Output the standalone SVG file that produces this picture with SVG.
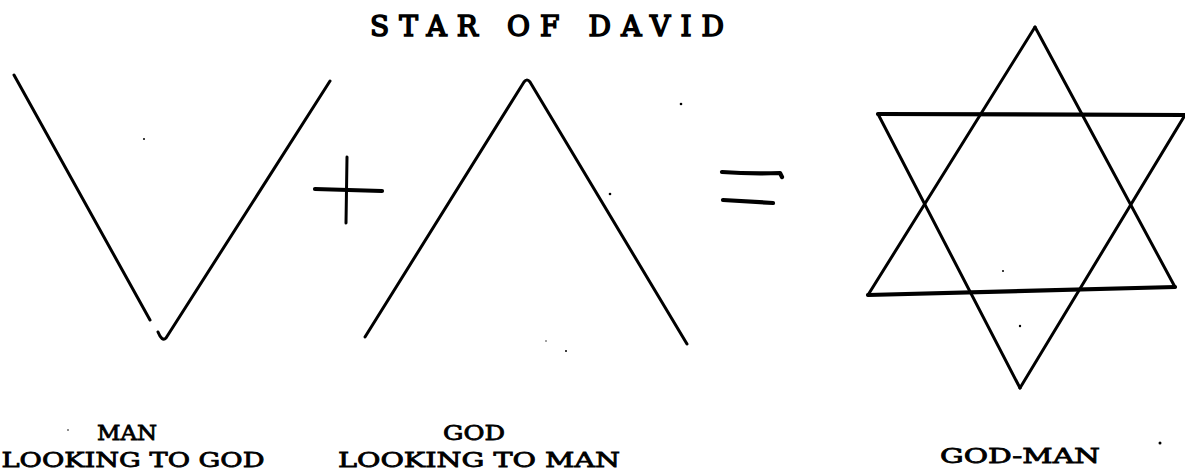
<svg xmlns="http://www.w3.org/2000/svg" width="1185" height="474" viewBox="0 0 1185 474">
<style>
.ln{fill:none;stroke:#000;stroke-width:3;stroke-linecap:round;stroke-linejoin:round}
.thk{stroke-width:4.2}
.t{font-family:"DejaVu Serif","Liberation Serif",serif;font-weight:normal;fill:#000;stroke:#000;stroke-width:0.8}
.ttl{stroke-width:1.6}
.dot{fill:#000}
</style>
<rect width="1185" height="474" fill="#fff"/>
<text class="t ttl" x="370" y="36" font-size="28" textLength="354" lengthAdjust="spacing">STAR OF DAVID</text>
<g id="man">
<path class="ln" d="M14,75 L150,320"/>
<path class="ln" d="M158,332 Q162,342 166,338 L330,81"/>
<text class="t" x="127" y="440" font-size="21" text-anchor="middle" textLength="60" lengthAdjust="spacingAndGlyphs">MAN</text>
<text class="t" x="133" y="467" font-size="21" text-anchor="middle" textLength="263" lengthAdjust="spacingAndGlyphs">LOOKING TO GOD</text>
</g>
<g id="plus">
<path class="ln thk" d="M315,189 L382,191"/>
<path class="ln" d="M347,157 L346,223"/>
</g>
<g id="god">
<path class="ln" d="M365,337 L524,82 Q527,78 530,82 L687,344"/>
<text class="t" x="474" y="440" font-size="21" text-anchor="middle" textLength="62" lengthAdjust="spacingAndGlyphs">GOD</text>
<text class="t" x="479" y="467" font-size="21" text-anchor="middle" textLength="282" lengthAdjust="spacingAndGlyphs">LOOKING TO MAN</text>
</g>
<g id="equals">
<path class="ln thk" d="M722,172 Q750,174 780,173 L782,177"/>
<path class="ln thk" d="M723,200 L773,203"/>
</g>
<g id="star">
<path class="ln" d="M1035,27 L868,295"/>
<path class="ln" d="M1035,27 L1175,287"/>
<path class="ln thk" d="M868,295 L1175,287"/>
<path class="ln thk" d="M878,114 L1185,115"/>
<path class="ln" d="M878,114 L1020,388"/>
<path class="ln" d="M1185,115 L1020,388"/>
<text class="t" x="1020" y="463" font-size="21" text-anchor="middle" textLength="160" lengthAdjust="spacingAndGlyphs">GOD-MAN</text>
</g>
<g id="specks">
<circle class="dot" cx="144" cy="139" r="1"/>
<circle class="dot" cx="681" cy="104" r="1.3"/>
<circle class="dot" cx="610" cy="194" r="1.3"/>
<circle class="dot" cx="566" cy="351" r="1"/>
<circle class="dot" cx="546" cy="341" r="0.7"/>
<circle class="dot" cx="1003" cy="271" r="1"/>
<circle class="dot" cx="1020" cy="326" r="1.2"/>
<circle class="dot" cx="1160" cy="443" r="1.5"/>
<circle class="dot" cx="68" cy="430" r="0.8"/>
</g>
</svg>
